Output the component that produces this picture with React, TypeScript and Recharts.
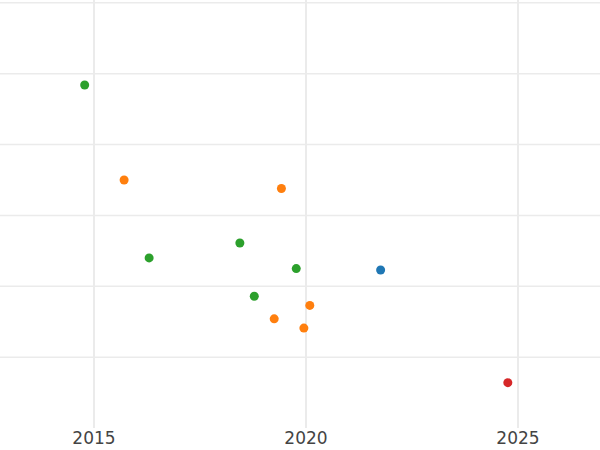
import React from "react";
import { ScatterChart, Scatter, XAxis, YAxis, ReferenceLine } from "recharts";

const greenX = [2014.78, 2016.3, 2018.44, 2018.78, 2019.77];
const greenY = [4.84, 2.4, 2.61, 1.86, 2.25];
const orangeX = [2015.71, 2019.42, 2019.25, 2020.09, 2019.95];
const orangeY = [3.5, 3.38, 1.54, 1.73, 1.41];
const blueX = [2021.76];
const blueY = [2.23];
const redX = [2024.76];
const redY = [0.64];

const xTicks = [2015, 2020, 2025];
const yTicks = [1, 2, 3, 4, 5, 6];

const toPoints = (xs: number[], ys: number[]) => xs.map((x, i) => ({ x, y: ys[i] }));

const series = [
  { name: "green", color: "#2ca02c", data: toPoints(greenX, greenY) },
  { name: "orange", color: "#ff7f0e", data: toPoints(orangeX, orangeY) },
  { name: "blue", color: "#1f77b4", data: toPoints(blueX, blueY) },
  { name: "red", color: "#d62728", data: toPoints(redX, redY) },
];

const Tick = (props: any) => {
  const { x, y, payload } = props;
  return (
    <text x={x} y={y + 8} textAnchor="middle" fill="#444" fontSize={17} fontFamily="DejaVu Sans">
      {payload.value}
    </text>
  );
};

const Dot = (props: any) => {
  const { cx, cy, fill } = props;
  return <circle cx={cx} cy={cy} r={4.5} fill={fill} />;
};

export default function App() {
  return (
    <div style={{ position: "absolute", left: 0, top: 0, width: 600, height: 450, background: "#fff" }}>
      <ScatterChart width={600} height={450} margin={{ top: 0, right: 0, bottom: 0, left: 0 }}>
        <XAxis
          type="number"
          dataKey="x"
          domain={[2012.783, 2026.934]}
          ticks={xTicks}
          axisLine={false}
          tickLine={false}
          height={22}
          tick={<Tick />}
          allowDataOverflow
        />
        <YAxis type="number" dataKey="y" domain={[0, 6.04]} ticks={yTicks} hide width={0} allowDataOverflow />
        {yTicks.map((t) => (
          <ReferenceLine key={"y" + t} y={t} stroke="#ebebeb" strokeWidth={1.5} />
        ))}
        {xTicks.map((t) => (
          <ReferenceLine key={"x" + t} x={t} stroke="#ebebeb" strokeWidth={2} />
        ))}
        {series.map((s) => (
          <Scatter key={s.name} name={s.name} data={s.data} fill={s.color} shape={<Dot />} isAnimationActive={false} />
        ))}
      </ScatterChart>
    </div>
  );
}
